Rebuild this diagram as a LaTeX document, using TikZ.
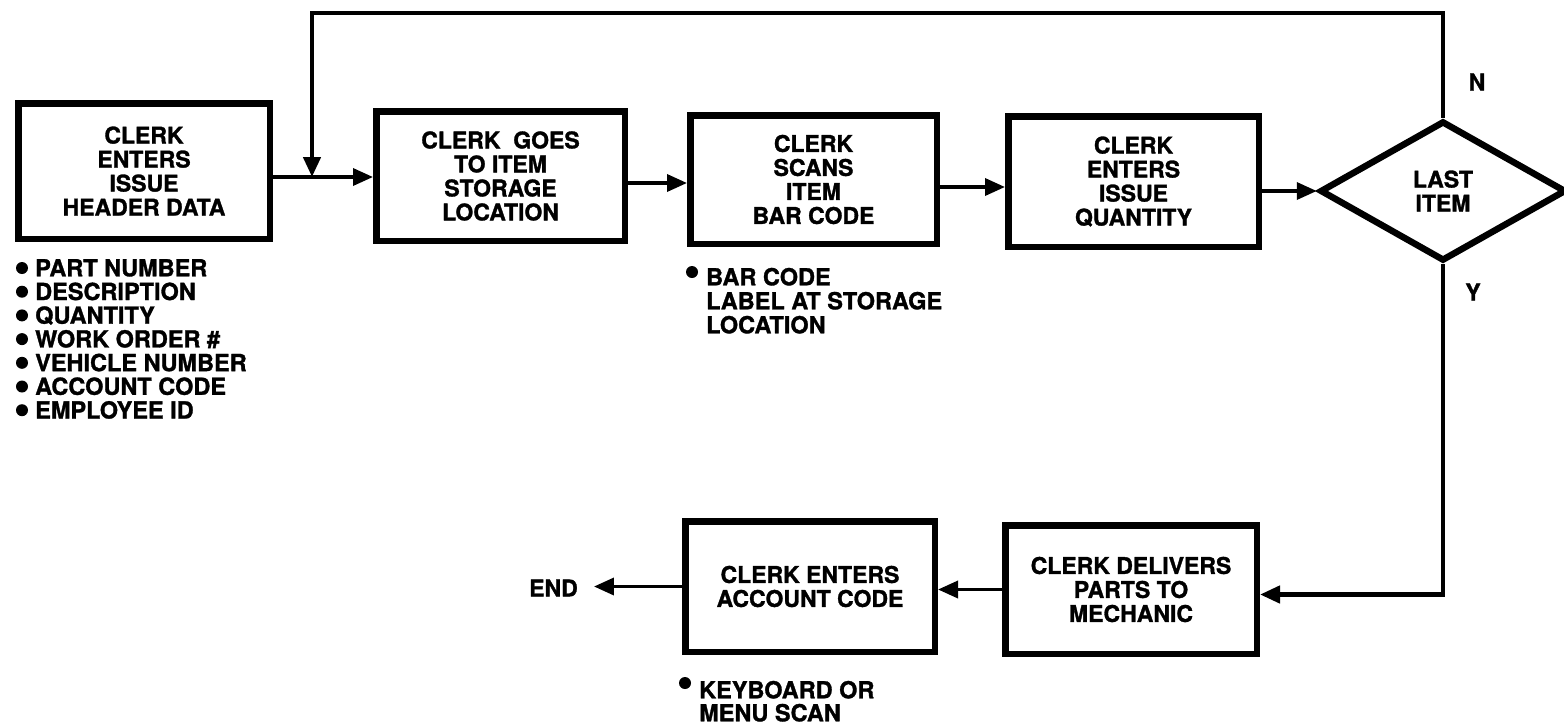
\documentclass[tikz,border=0pt]{standalone}
\usepackage{fontspec}
\setmainfont{TeX Gyre Heros}[BoldFeatures={FakeBold=1.3}]
\usetikzlibrary{arrows.meta,shapes.geometric}
\begin{document}
\begin{tikzpicture}[x=1pt,y=-1pt,
  txt/.style={font=\fontsize{23}{24}\selectfont\bfseries},
  ltxt/.style={font=\fontsize{23.5}{24}\selectfont\bfseries},
  box/.style={txt,draw,line width=6.5pt,rectangle,align=center,inner sep=0pt,line join=miter},
  dec/.style={txt,draw,line width=6.5pt,diamond,align=center,inner sep=0pt,line join=miter},
  item/.style={ltxt,inner sep=0pt,anchor=base west},
  dot/.style={circle,fill=black,inner sep=0pt,minimum size=12pt},
  arr/.style={line width=3.5pt,-{Triangle[length=20pt,width=17pt]}},
  larr/.style={line width=4.5pt,line join=miter,-{Triangle[length=20pt,width=17pt]}}]
\useasboundingbox (0,0) rectangle (1564,724);

% process boxes
\node[box,minimum width=251.5pt,minimum height=135.5pt] (b1) at (144,171) {CLERK\\ENTERS\\ISSUE\\HEADER DATA};
\node[box,minimum width=248.5pt,minimum height=129.5pt] (b2) at (500.5,176) {CLERK\ \ GOES\\TO ITEM\\STORAGE\\LOCATION};
\node[box,minimum width=246.5pt,minimum height=128.5pt] (b3) at (813.5,179.5) {CLERK\\SCANS\\ITEM\\BAR CODE};
\node[box,minimum width=250.5pt,minimum height=130.5pt] (b4) at (1133.5,181.5) {CLERK\\ENTERS\\ISSUE\\QUANTITY};
\node[dec,minimum width=246pt,minimum height=140pt,aspect=1.76] (dia) at (1443,191) {LAST\\ITEM};
\node[box,minimum width=251.5pt,minimum height=128.5pt] (b6) at (1131,589.5) {CLERK DELIVERS\\PARTS TO\\MECHANIC};
\node[box,minimum width=249.5pt,minimum height=130.5pt] (b5) at (810,586.5) {CLERK ENTERS\\ACCOUNT CODE};

% labels
\node[txt,inner sep=0pt] (n) at (1477,82) {N};
\node[txt,inner sep=0pt] (y) at (1473,292) {Y};
\node[txt,inner ysep=0pt,inner xsep=16pt] (end) at (553.5,588) {END};

% connectors
\coordinate (tl) at (312,13);
\coordinate (j) at (312,177);
\draw[arr] (b1.east |- j) -- (b2.west |- j);
\draw[larr] (dia.north) |- (tl) -- (j);
\draw[arr] ([yshift=-7pt]b2.east) -- ([yshift=-7pt]b2.east -| b3.west);
\draw[arr] ([yshift=-7.5pt]b3.east) -- ([yshift=-7.5pt]b3.east -| b4.west);
\draw[arr] (dia.west -| b4.east) -- (dia.west);
\draw[larr] (dia.south) |- ([yshift=-5pt]b6.east);
\draw[arr] (b6.west) -- (b6.west -| b5.east);
\draw[arr] (b5.west) -- (b5.west -| end.east);

% bullet list under first box
\foreach \t [count=\i] in {PART NUMBER,DESCRIPTION,QUANTITY,WORK ORDER \#,VEHICLE NUMBER,ACCOUNT CODE,EMPLOYEE ID}{
  \node[dot] (d\i) at (22,{268+(\i-1)*23.7}) {};
  \node[item] (l\i) at (35,{276.3+(\i-1)*23.7}) {\t};
}

% bar code note
\node[dot] (bd) at (692,272) {};
\node[item] (bc1) at (706,285.3) {BAR CODE};
\node[item] (bc2) at (706,309.3) {LABEL AT STORAGE};
\node[item] (bc3) at (706,333.3) {LOCATION};

% keyboard note
\node[dot] (kd) at (685,683) {};
\node[item] (kb1) at (699,698.3) {KEYBOARD OR};
\node[item] (kb2) at (699,721.3) {MENU SCAN};
\end{tikzpicture}
\end{document}
